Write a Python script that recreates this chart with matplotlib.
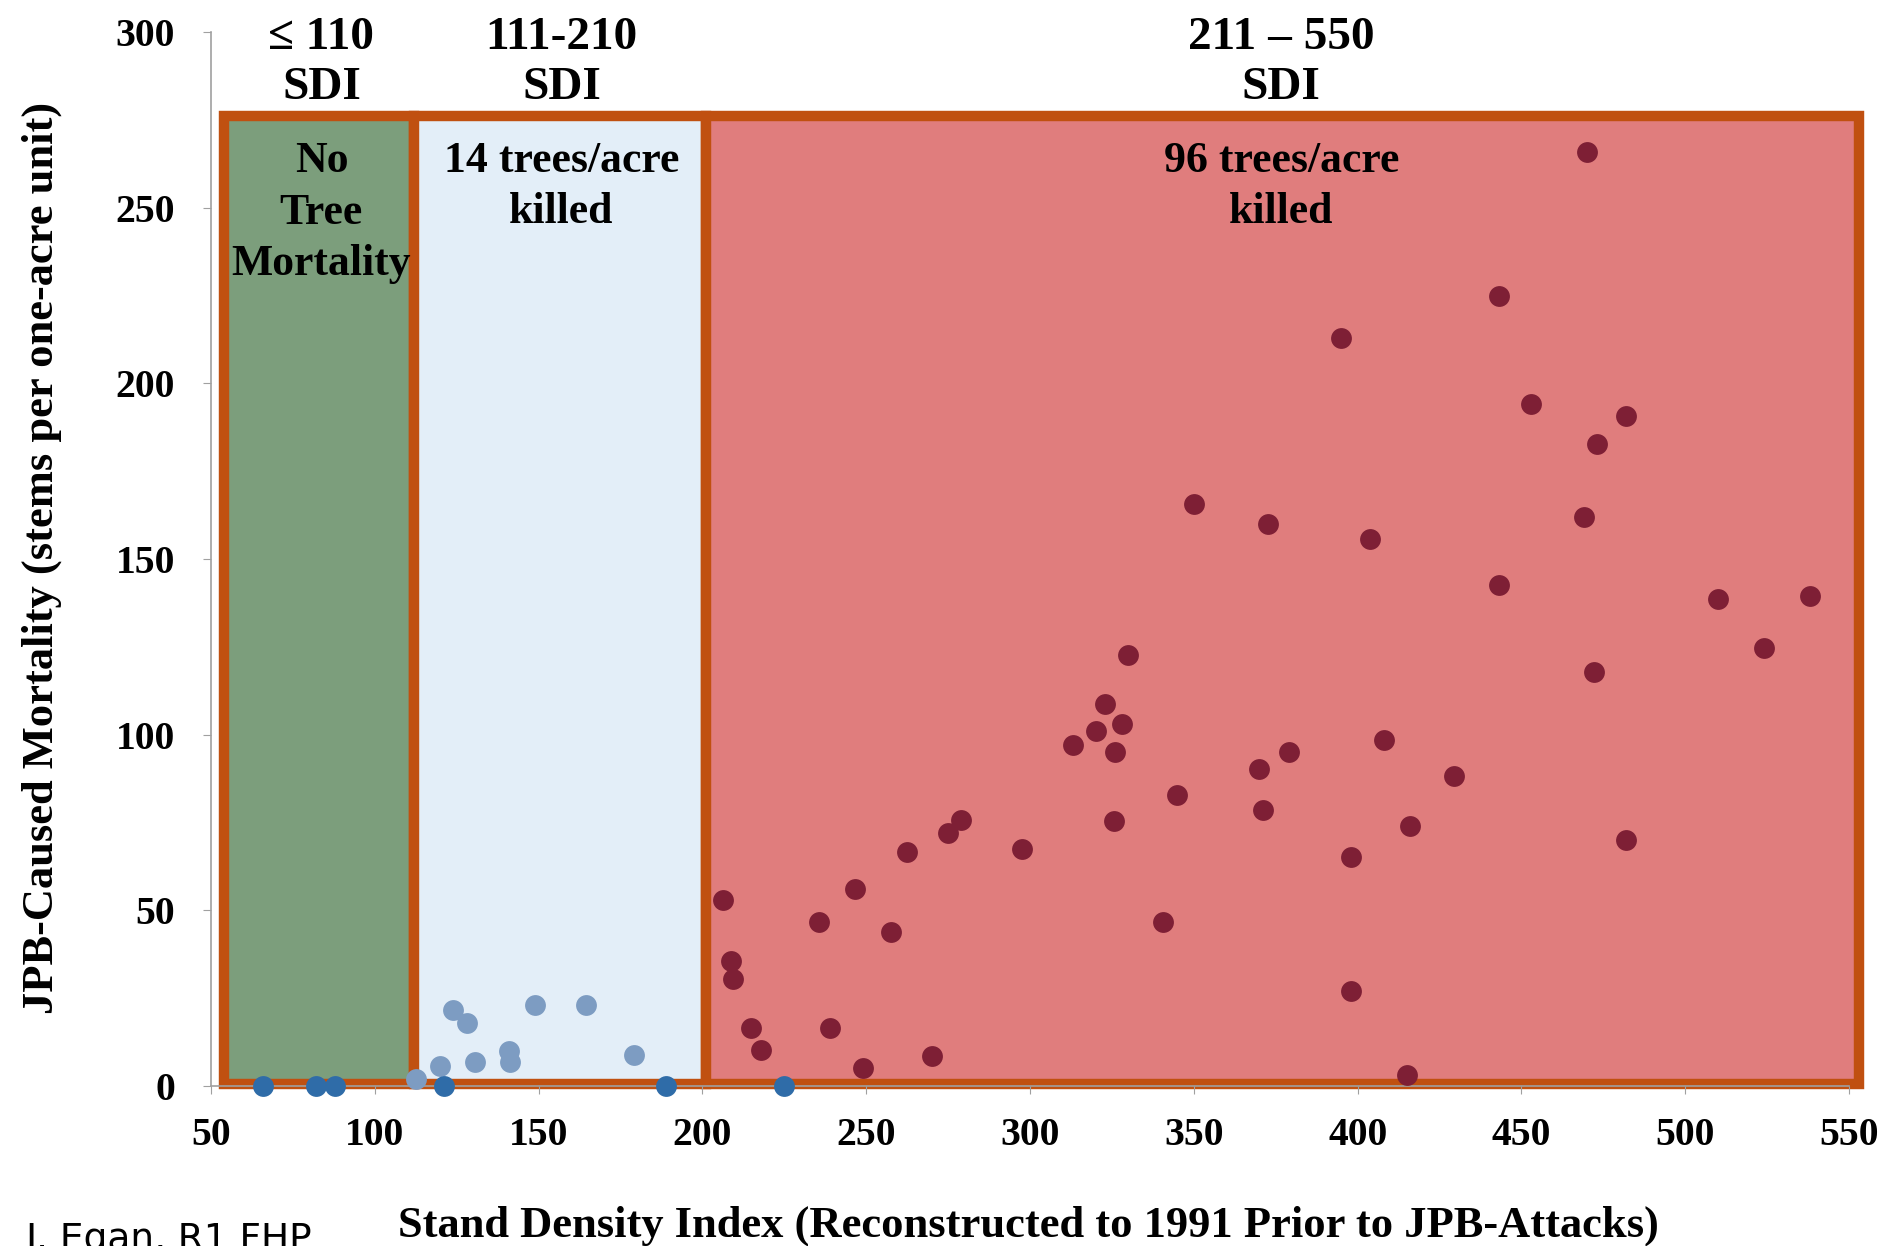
import numpy as np
import matplotlib.pyplot as plt
from matplotlib.patches import Rectangle

# stand density index vs. JPB-caused mortality
sdi_zero = [66, 82, 88, 121, 189, 225]
mort_zero = [0, 0, 0, 0, 0, 0]

sdi_low = [112.6, 120, 124, 128, 130.6, 141, 141.4, 149, 164.6, 179]
mort_low = [2, 5.8, 21.5, 18, 6.8, 10, 6.8, 23, 23, 8.9]

sdi_high = [470, 443, 395, 453, 482, 473, 350, 372.7, 403.8, 469, 443, 510, 538,
            524, 472, 330, 323, 320, 328, 326, 313, 379, 370, 408, 429.5, 345,
            371, 325.5, 416, 482, 398, 297.6, 279, 275, 262.5, 246.7, 206.4,
            235.7, 257.7, 340.5, 208.6, 209.3, 398, 214.8, 239, 218, 270, 249, 415]
mort_high = [265.8, 224.8, 213, 194, 190.6, 182.8, 165.7, 160, 155.8, 162, 142.5,
             138.7, 139.4, 124.7, 117.9, 122.7, 108.6, 101, 103, 95, 97, 95, 90.2,
             98.4, 88.1, 82.7, 78.6, 75.5, 74.1, 70, 65.3, 67.6, 75.8, 72, 66.6,
             56, 53, 46.8, 43.7, 46.8, 35.5, 30.4, 27, 16.4, 16.4, 10.2, 8.5, 5, 3]

# class boxes: (left, right, fill, label, label x, label y)
classes = [
    (54, 112, '#7c9e7c', 'No\nTree\nMortality', 83.7, 248.6),
    (112, 201, '#e3eef8', '14 trees/acre\nkilled', 157, 256.1),
    (201, 553, '#e07d7d', '96 trees/acre\nkilled', 376.7, 256.1),
]
headers = [(83.7, '≤ 110\nSDI'), (157, '111-210\nSDI'), (376.7, '211 – 550\nSDI')]

serif = ['Liberation Serif', 'DejaVu Serif']

fig = plt.figure(figsize=(18.82, 12.46), dpi=100)
ax = fig.add_axes([0.1121, 0.1284, 0.8704, 0.8459])

box_top = 276
for left, right, fill, label, lx, ly in classes:
    ax.add_patch(Rectangle((left, 0.7), right - left, box_top - 0.7,
                           facecolor=fill, edgecolor='#c05010', linewidth=7.5,
                           zorder=1, clip_on=False))
    ax.text(lx, ly, label, ha='center', va='center', fontsize=31.5,
            fontweight='bold', family=serif, linespacing=1.37, zorder=5)

ax.scatter(sdi_zero, mort_zero, s=225, color='#2f6ca8', zorder=4, clip_on=False,
           linewidths=0)
ax.scatter(sdi_low, mort_low, s=225, color='#7d9cc2', zorder=3, clip_on=False,
           linewidths=0)
ax.scatter(sdi_high, mort_high, s=225, color='#7e1f35', zorder=3, clip_on=False,
           linewidths=0)

for x, label in headers:
    ax.text(x, 291.2, label, ha='center', va='center', fontsize=34,
            fontweight='bold', family=serif, linespacing=1.27, clip_on=False)

ax.set_xlim(50, 550)
ax.set_ylim(0, 300)
ax.set_xticks(np.arange(50, 551, 50))
ax.set_yticks(np.arange(0, 301, 50))
for lab in ax.get_xticklabels() + ax.get_yticklabels():
    lab.set_family(serif)
    lab.set_fontweight('bold')
    lab.set_fontsize(28.5)
ax.tick_params(axis='x', length=6, color='#a0a0a0', pad=16)
ax.tick_params(axis='y', length=6, color='#a0a0a0', pad=20)

for side in ['top', 'right']:
    ax.spines[side].set_visible(False)
for side in ['left', 'bottom']:
    ax.spines[side].set_color('#a0a0a0')
    ax.spines[side].set_linewidth(1.2)

ax.set_ylabel('JPB-Caused Mortality (stems per one-acre unit)', fontsize=32,
              fontweight='bold', family=serif)
ax.yaxis.set_label_coords(-0.091, 0.501)

fig.text(0.5464, 0.008, 'Stand Density Index (Reconstructed to 1991 Prior to JPB-Attacks)',
         ha='center', va='baseline', fontsize=32, fontweight='bold', family=serif)
fig.text(0.014, 0.019, 'J. Egan, R1 FHP', ha='left', va='top', fontsize=27,
         family=['DejaVu Sans'])

fig.savefig('out.png', dpi=100)
